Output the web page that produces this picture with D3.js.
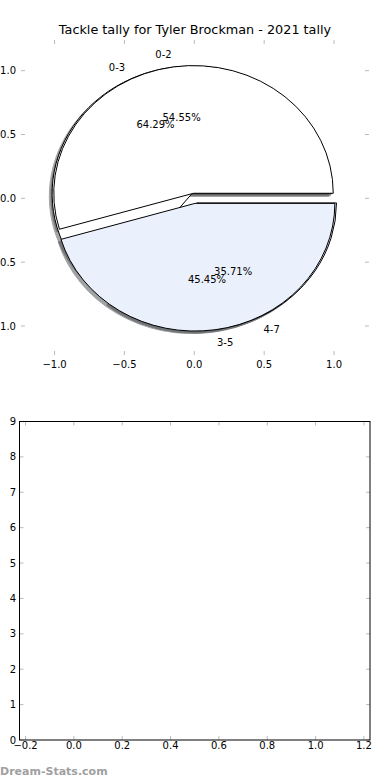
<!DOCTYPE html>
<html>
<head>
<meta charset="utf-8">
<script src="https://cdn.jsdelivr.net/npm/d3@7"></script>
<style>
  body { margin: 0; background: #fff; }
  text { font-family: "DejaVu Sans", sans-serif; }
</style>
</head>
<body>
<div id="chart"></div>
<script>
// du lieu
const titleText = "Tackle tally for Tyler Brockman - 2021 tally";
const labelsA = ["0-2", "3-5"];
const valuesA = [6, 5];
const labelsB = ["0-3", "4-7"];
const valuesB = [9, 5];
const wedgeColors = ["#ffffff", "#eaf0fc"];
const explode = 0.04;

const pieTicks = [-1.0, -0.5, 0.0, 0.5, 1.0];
const barXTicks = [-0.2, 0.0, 0.2, 0.4, 0.6, 0.8, 1.0, 1.2];
const barYTicks = [0, 1, 2, 3, 4, 5, 6, 7, 8, 9];

const W = 390, H = 780;
const svg = d3.select("#chart").append("svg")
    .attr("width", W).attr("height", H);

const fmtTick = d => d3.format(".1f")(d).replace("-", "\u2212");
const tickColor = "#bbbbbb";

// ---------- bieu do tron ----------
const x1 = d3.scaleLinear().domain([-1.24, 1.25]).range([21, 369]);
const y1 = d3.scaleLinear().domain([-1.227, 1.24]).range([355, 40]);

svg.append("text")
    .attr("x", 195).attr("y", 34)
    .attr("text-anchor", "middle")
    .attr("font-size", "12.8px")
    .text(titleText);

// ticks (huong vao trong)
const g1 = svg.append("g");
pieTicks.forEach(t => {
    [[y1.range()[0], -4], [y1.range()[1], 4]].forEach(([yy, len]) => {
        g1.append("line").attr("x1", x1(t)).attr("x2", x1(t))
            .attr("y1", yy).attr("y2", yy + len)
            .attr("stroke", tickColor);
    });
    [[x1.range()[0], 4], [x1.range()[1], -4]].forEach(([xx, len]) => {
        g1.append("line").attr("y1", y1(t)).attr("y2", y1(t))
            .attr("x1", xx).attr("x2", xx + len)
            .attr("stroke", tickColor);
    });
    g1.append("text").attr("x", x1(t)).attr("y", y1.range()[0] + 13)
        .attr("text-anchor", "middle").attr("font-size", "10px").text(fmtTick(t));
    g1.append("text").attr("x", 16).attr("y", y1(t)).attr("dy", "0.35em")
        .attr("text-anchor", "end").attr("font-size", "10px").text(fmtTick(t));
});

function wedges(values, labels) {
    const total = d3.sum(values);
    const pie = d3.pie().sort(null)
        .startAngle(Math.PI / 2).endAngle(Math.PI / 2 - 2 * Math.PI);
    return pie(values).map((a, i) => {
        const t0 = Math.PI / 2 - a.startAngle;
        const t1 = Math.PI / 2 - a.endAngle;
        const mid = (t0 + t1) / 2;
        return {
            t0, t1, mid,
            cx: explode * Math.cos(mid),
            cy: explode * Math.sin(mid),
            color: wedgeColors[i % wedgeColors.length],
            label: labels[i],
            pct: values[i] / total * 100
        };
    });
}

const rx = x1(1) - x1(0), ry = y1(0) - y1(1);
function wedgePath(w, ox, oy) {
    const cx = w.cx + ox, cy = w.cy + oy;
    const large = (w.t1 - w.t0) > Math.PI ? 1 : 0;
    return `M${x1(cx)},${y1(cy)}` +
        `L${x1(cx + Math.cos(w.t0))},${y1(cy + Math.sin(w.t0))}` +
        `A${rx},${ry} 0 ${large} 0 ${x1(cx + Math.cos(w.t1))},${y1(cy + Math.sin(w.t1))}Z`;
}

const pieB = wedges(valuesB, labelsB);
const pieA = wedges(valuesA, labelsA);
const allWedges = pieB.concat(pieA);

// bong
const shade = d => { const c = d3.rgb(d.color); return d3.rgb(c.r * 0.3, c.g * 0.3, c.b * 0.3); };
svg.append("g").selectAll("path").data(allWedges).enter().append("path")
    .attr("d", d => wedgePath(d, -0.02, -0.02))
    .attr("fill", shade)
    .attr("stroke", shade)
    .attr("opacity", 0.5);

// mieng banh
svg.append("g").selectAll("path").data(allWedges).enter().append("path")
    .attr("d", d => wedgePath(d, 0, 0))
    .attr("fill", d => d.color)
    .attr("stroke", "#000")
    .attr("stroke-width", 1);

const txt = svg.append("g");
allWedges.forEach(w => {
    const lx = w.cx + 1.1 * Math.cos(w.mid), ly = w.cy + 1.1 * Math.sin(w.mid);
    txt.append("text").attr("x", x1(lx)).attr("y", y1(ly)).attr("dy", "0.35em")
        .attr("text-anchor", lx < 0 ? "end" : "start")
        .attr("font-size", "10px").text(w.label);
    const px = w.cx + 0.6 * Math.cos(w.mid), py = w.cy + 0.6 * Math.sin(w.mid);
    txt.append("text").attr("x", x1(px)).attr("y", y1(py)).attr("dy", "0.35em")
        .attr("text-anchor", "middle")
        .attr("font-size", "10px").text(d3.format(".2f")(w.pct) + "%");
});

// ---------- truc duoi (rong) ----------
const x2 = d3.scaleLinear().domain([-0.225, 1.225]).range([19.5, 370]);
const y2 = d3.scaleLinear().domain([0, 9]).range([740, 421.5]);
const g2 = svg.append("g");

barXTicks.forEach(t => {
    g2.append("line").attr("x1", x2(t)).attr("x2", x2(t))
        .attr("y1", y2(0)).attr("y2", y2(0) - 4).attr("stroke", tickColor);
    g2.append("line").attr("x1", x2(t)).attr("x2", x2(t))
        .attr("y1", y2(9)).attr("y2", y2(9) + 4).attr("stroke", tickColor);
    g2.append("text").attr("x", x2(t)).attr("y", y2(0) + 9)
        .attr("text-anchor", "middle").attr("font-size", "10px").text(fmtTick(t));
});
barYTicks.forEach(t => {
    g2.append("line").attr("x1", x2.range()[0]).attr("x2", x2.range()[0] + 4)
        .attr("y1", y2(t)).attr("y2", y2(t)).attr("stroke", tickColor);
    g2.append("line").attr("x1", x2.range()[1]).attr("x2", x2.range()[1] - 4)
        .attr("y1", y2(t)).attr("y2", y2(t)).attr("stroke", tickColor);
    g2.append("text").attr("x", 16).attr("y", y2(t)).attr("dy", "0.35em")
        .attr("text-anchor", "end").attr("font-size", "10px").text(t);
});
g2.append("rect")
    .attr("x", x2.range()[0]).attr("y", y2(9))
    .attr("width", x2.range()[1] - x2.range()[0])
    .attr("height", y2(0) - y2(9))
    .attr("fill", "none").attr("stroke", "#000").attr("stroke-width", 1);

svg.append("text")
    .attr("x", 0).attr("y", 775)
    .attr("font-family", "'Open Sans', sans-serif")
    .attr("font-weight", 600)
    .attr("font-size", "11px")
    .attr("fill", "#a0a0a0")
    .text("Dream-Stats.com");
</script>
</body>
</html>
